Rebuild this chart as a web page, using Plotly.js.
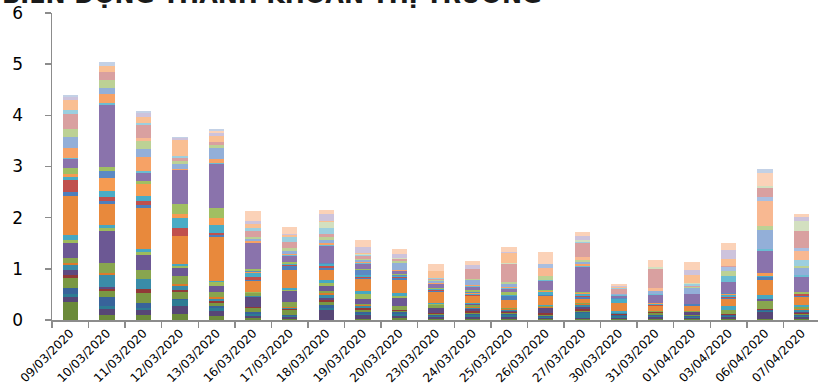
<!DOCTYPE html>
<html>
<head>
<meta charset="utf-8">
<script src="https://cdn.plot.ly/plotly-3.0.1.min.js"></script>
<style>
html,body{margin:0;padding:0;background:#fff;overflow:hidden;}
#chart{width:820px;height:386px;}
</style>
</head>
<body>
<div id="chart"></div>
<script>
const dates = ["09/03/2020","10/03/2020","11/03/2020","12/03/2020","13/03/2020","16/03/2020","17/03/2020","18/03/2020","19/03/2020","20/03/2020","23/03/2020","24/03/2020","25/03/2020","26/03/2020","27/03/2020","30/03/2020","31/03/2020","01/04/2020","03/04/2020","06/04/2020","07/04/2020"];

const olive1     = [.36,.10,.10,.12,.08,.03,.02,0,.02,.03,.02,.01,.02,.01,.01,.01,.02,.01,.02,.02,.02];
const dkpurple1  = [.08,.12,.10,.16,.10,.05,.04,.20,.07,.04,.03,.05,.04,.03,.02,.03,.03,.02,.03,.14,.03];
const teal1      = [.06,.045,.03,.11,.05,.03,.02,.03,.02,.05,.03,.03,.03,.02,.10,.03,.03,.02,.02,.01,.03];
const dkblue1    = [.13,.18,.10,.03,.04,.05,.02,.07,.05,.03,.02,.02,.03,.02,.02,.02,.02,.02,.02,.02,.02];
const olive2     = [.20,.12,.19,.12,.06,.07,.10,.05,.04,.03,.02,.02,.02,.01,.03,.01,.03,.02,.01,.01,.02];
const dkred1     = [.04,.04,.08,.04,.05,.02,.02,.04,.03,.02,.01,.05,.02,.04,.03,.01,.02,.01,.02,.02,.02];
const dkpurple2  = [.10,.04,0,0,0,.20,0,.04,0,0,.10,.03,.02,.10,.04,.01,.01,.065,0,0,.02];
const mixTeal    = [.10,.23,.21,.08,.04,.02,.02,.06,.04,0,0,.03,.02,.01,.04,.01,0,0,0,0,.03];
const orange0    = [.04,.04,0,.04,.02,0,.02,.03,.02,0,0,.02,.01,.02,.02,0,0,0,0,0,.03];
const olive3     = [.11,.20,.16,.16,.10,.05,.10,.04,.03,.065,.065,.03,.02,.01,.02,0,.01,.02,.08,.15,.03];
const purple2    = [.28,.62,.31,.15,.13,0,.20,.10,.10,.16,0,.02,0,0,0,0,0,0,0,.05,0];
const greenThin  = [.06,.065,.05,.04,.065,.03,.03,.06,.08,.05,.01,.01,0,.01,0,0,0,0,0,0,.01];
const aqua1      = [.10,.05,.05,.04,.03,0,.03,.07,.065,.05,.02,.01,.01,.01,0,.045,0,0,.065,.065,.03];
const orangeBig  = [.77,.42,.80,.55,.86,.21,.36,.19,.24,.26,.23,.13,.16,.18,.09,.15,.10,.09,.14,.30,.16];
const blue1      = [.08,.05,.06,0,.03,.02,.08,.04,.02,.03,.02,.01,.065,.01,.03,.01,.01,.045,.03,.05,.01];
const red1       = [.23,.085,.085,.16,.05,.06,.02,.03,.02,.02,.02,.02,.01,.01,.02,0,.02,0,.02,.01,.04];
const aqua2      = [.06,.11,.10,.20,.16,.07,.02,.04,.04,.02,.02,.01,.01,.065,.03,.07,.02,0,.03,.01,0];
const orange2    = [.06,.27,.24,.08,.13,.03,0,0,0,0,0,.02,0,.02,.02,0,.01,0,.02,.06,0];
const blue2      = [0,.13,0,0,0,.02,0,.03,.10,.03,0,.02,0,0,.01,.03,0,0,.02,.01,0];
const green2     = [.12,.08,.05,.18,.20,.04,.03,0,.02,.02,.02,.04,.065,.01,.02,0,0,0,0,0,.05];
const purpleBig  = [.16,1.20,.16,.67,.85,.50,.12,.33,.08,.05,.065,.065,.05,.17,.48,.035,.16,.18,.21,.43,.30];
const aqua3      = [.03,.045,.04,0,.03,0,.02,.02,.02,.01,.01,.01,.03,.02,.03,.01,.02,0,.12,.04,.03];
const orange3    = [.20,.17,.27,.02,.08,.04,.02,.03,.02,.02,.02,.02,.02,0,.03,0,0,0,0,0,0];
const lightBlue  = [.20,.12,.16,.10,.20,.04,.06,.07,.04,.13,.03,.11,.05,0,.05,.02,.06,.13,0,.36,.14];
const lightGreen = [.17,.16,.16,.06,.06,.04,.06,.05,.03,.03,.02,.02,.04,.085,.03,.01,0,.02,.10,.085,.03];
const lightAqua0 = [0,0,0,0,0,0,0,0,0,0,0,0,0,0,0,0,0,0,0,0,.13];
const salmon2    = [0,0,.06,0,0,0,0,0,0,0,0,0,0,.155,.07,0,.06,0,0,.48,.17];
const midBlue    = [0,0,0,0,0,0,0,0,0,0,0,0,0,.085,0,0,0,0,.08,.08,.05];
const pink       = [.29,.15,.25,.06,.06,.11,.12,.07,.06,.04,.03,.20,.35,0,.26,.10,.36,.02,.02,.18,.34];
const lightAqua  = [.065,0,.03,.04,0,.06,.10,.11,.02,.01,.01,0,.01,0,.02,.01,0,.04,0,0,0];
const paleGreen  = [0,0,0,0,0,0,0,.12,.02,.01,.01,0,.01,0,.04,.01,.05,.01,0,.03,.19];
const salmon     = [.20,.13,.12,.30,.13,.08,.03,.02,.02,0,.12,0,.20,0,0,.02,0,.16,.13,0,0];
const lightPurple= [.06,0,.08,.05,.05,.07,.03,.14,.12,.09,.01,.07,.01,0,.08,.02,0,.10,.18,0,.09];
const lightSalmon= [0,0,0,0,.04,.19,.13,.07,.125,.095,.13,.085,.11,.23,.08,.03,.13,.15,.135,.26,.05];
const topBlue    = [.05,.07,.035,.02,.035,0,0,0,0,0,0,0,0,0,0,0,0,0,0,.09,0];

const series = [
  ["olive1", "#6B8A3A", olive1],
  ["dkpurple1", "#574676", dkpurple1],
  ["teal1", "#2D7C93", teal1],
  ["dkblue1", "#38639A", dkblue1],
  ["olive2", "#7A9843", olive2],
  ["dkred1", "#913A37", dkred1],
  ["dkpurple2", "#5E4A80", dkpurple2],
  ["mixTeal", "#3A8CA8", mixTeal],
  ["orange0", "#DB7A2C", orange0],
  ["olive3", "#88A54F", olive3],
  ["purple2", "#6C5894", purple2],
  ["greenThin", "#9DBB5C", greenThin],
  ["aqua1", "#46A7C2", aqua1],
  ["orangeBig", "#E8893C", orangeBig],
  ["blue1", "#4E7FBC", blue1],
  ["red1", "#C0504D", red1],
  ["aqua2", "#4AACC6", aqua2],
  ["orange2", "#F59B52", orange2],
  ["blue2", "#5B89C4", blue2],
  ["green2", "#A0BF62", green2],
  ["purpleBig", "#8A73AC", purpleBig],
  ["aqua3", "#6BBCD2", aqua3],
  ["orange3", "#F6A266", orange3],
  ["lightBlue", "#93AFD8", lightBlue],
  ["lightGreen", "#BCD195", lightGreen],
  ["lightAqua0", "#9CCFDF", lightAqua0],
  ["salmon2", "#F8B891", salmon2],
  ["midBlue", "#A9BEE0", midBlue],
  ["pink", "#D9A0A0", pink],
  ["lightAqua", "#9CCFDF", lightAqua],
  ["paleGreen", "#D3E0C0", paleGreen],
  ["salmon", "#F9BF93", salmon],
  ["lightPurple", "#CDC3DC", lightPurple],
  ["lightSalmon", "#FBD2B8", lightSalmon],
  ["topBlue", "#C3D1E6", topBlue]
];

const traces = series.map(s => ({
  type: "bar",
  name: s[0],
  x: dates,
  y: s[2],
  marker: {color: s[1], line: {width: 0}},
  hoverinfo: "x+y+name"
}));

const layout = {
  width: 820,
  height: 386,
  margin: {l: 52, r: 0, t: 13, b: 66, pad: 0},
  barmode: "stack",
  bargap: 0.58,
  showlegend: false,
  paper_bgcolor: "#ffffff",
  plot_bgcolor: "#ffffff",
  font: {family: "DejaVu Sans, Verdana, sans-serif", color: "#000000"},
  xaxis: {
    type: "category",
    showline: true, linecolor: "#8c8c8c", linewidth: 1.5,
    ticks: "outside", tickson: "boundaries", ticklen: 6, tickcolor: "#8c8c8c", tickwidth: 1.5,
    tickangle: -45,
    tickfont: {size: 12, family: "DejaVu Sans, Verdana, sans-serif", color: "#000"},
    showgrid: false, zeroline: false, fixedrange: true
  },
  yaxis: {
    range: [0, 6], dtick: 1, tick0: 0,
    showline: true, linecolor: "#8c8c8c", linewidth: 1.5,
    ticks: "outside", ticklen: 6, tickcolor: "#8c8c8c", tickwidth: 1.5,
    ticklabelstandoff: 18,
    tickfont: {size: 17, family: "DejaVu Sans, Verdana, sans-serif", color: "#000"},
    showgrid: false, zeroline: false, fixedrange: true
  },
  annotations: [{
    text: "<b>BIẾN ĐỘNG THANH KHOẢN THỊ TRƯỜNG</b>",
    xref: "paper", yref: "paper",
    x: -52/768, y: 1.006,
    xanchor: "left", yanchor: "bottom",
    showarrow: false,
    font: {size: 24, family: "DejaVu Sans, Verdana, sans-serif", color: "#1a1a1a"}
  }]
};

Plotly.newPlot("chart", traces, layout, {displayModeBar: false, staticPlot: true});
</script>
</body>
</html>
